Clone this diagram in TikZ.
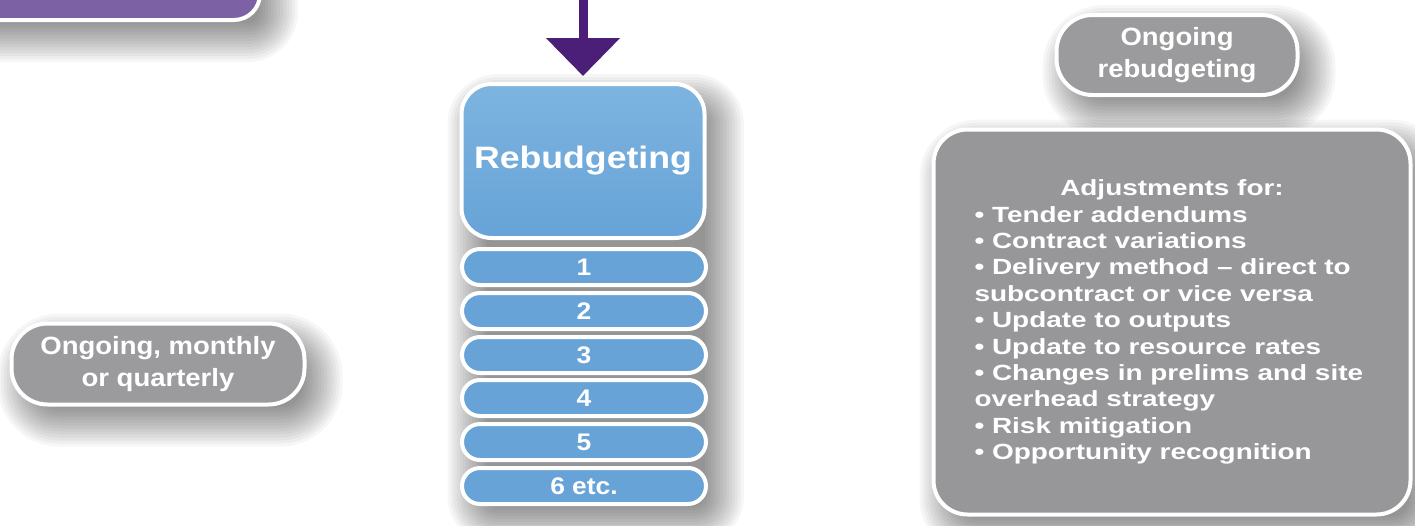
\documentclass[tikz,border=0pt]{standalone}
\usepackage{fontspec}
\setmainfont{Liberation Sans}
\newfontfamily\labelsans{Liberation Sans}[FakeStretch=1.1]
\newfontfamily\listsans{Liberation Sans}[FakeStretch=1.27]
\newfontfamily\titlesans{Liberation Sans}[FakeStretch=1.15]
\usetikzlibrary{arrows.meta,calc}

\definecolor{stagepurple}{HTML}{7C62A4}
\definecolor{arrowpurple}{HTML}{4B1E78}
\definecolor{stepblue}{HTML}{67A3D7}
\definecolor{stepbluelight}{HTML}{7DB4E0}
\definecolor{notegrey}{HTML}{9B9B9E}
\definecolor{listgrey}{HTML}{97979A}

\pgfdeclarelayer{paper}
\pgfdeclarelayer{shadow}
\pgfsetlayers{paper,shadow,main}

% soft drop shadow: stacked translucent rounded rectangles,
% #1 top-left anchor, #2 bottom-right anchor, #3 corner radius
\newcommand\castshadow[3]{%
  \foreach \r in {-15,-12,...,24}{%
    \pgfmathsetmacro\rc{max(#3+\r,1)}%
    \fill[black, opacity=0.035, rounded corners=\rc pt]
      ($(#1)+(12-\r,16-\r)$) rectangle ($(#2)+(12+\r,16+\r)$);
  }}

\tikzset{
  panel/.style={draw=white, line width=4pt, text=white, inner sep=0pt},
  stagebox/.style={panel, fill=stagepurple, rounded corners=26pt,
      minimum width=400pt, minimum height=150pt},
  titlebox/.style={panel, top color=stepbluelight, bottom color=stepblue,
      rounded corners=30pt, minimum width=243pt, minimum height=154pt,
      font=\titlesans\bfseries\fontsize{31}{36}\selectfont},
  steppill/.style={panel, fill=stepblue, rounded corners=18pt,
      minimum width=244pt, minimum height=36pt,
      font=\labelsans\bfseries\fontsize{24}{28}\selectfont},
  notepill/.style={panel, fill=notegrey, rounded corners=36pt, align=center,
      font=\labelsans\bfseries\fontsize{25}{32.5}\selectfont},
  listbox/.style={panel, fill=listgrey, rounded corners=34pt,
      minimum width=477pt, minimum height=385pt,
      font=\listsans\bfseries\fontsize{22}{26.4}\selectfont},
  flowarrow/.style={line width=9pt, draw=arrowpurple,
      -{Triangle[width=72pt,length=38pt]}, shorten >=6pt},
}

\begin{document}
\begin{tikzpicture}[x=1pt,y=-1pt]
  \begin{pgfonlayer}{paper}
    \fill[white] (0,0) rectangle (1415,525);
  \end{pgfonlayer}
  \useasboundingbox (0,0) rectangle (1415,525);

  % stage above, only its lower edge lies on the page
  \node[stagebox] (stage) at (60,-55) {};

  % rebudgeting stack
  \coordinate (feed) at (583,-10);
  \node[titlebox] (rebudget) at (583,161) {Rebudgeting};
  \node[steppill] (r1) at (584,267) {1};
  \node[steppill] (r2) at (584,311) {2};
  \node[steppill] (r3) at (584,355) {3};
  \node[steppill] (r4) at (584,398) {4};
  \node[steppill] (r5) at (584,442) {5};
  \node[steppill] (r6) at (584,486) {6 etc.};
  \draw[flowarrow] (feed) -- (rebudget.north);

  % notes
  \node[notepill, minimum width=293pt, minimum height=81pt] (cycle)
    at (158,364) {Ongoing, monthly\\or quarterly};
  \node[notepill, minimum width=241pt, minimum height=80pt] (ongoing)
    at (1177,55) {Ongoing\\rebudgeting};

  % adjustments list
  \node[listbox] (adjust) at (1172,322) {%
    \begin{minipage}{395pt}
      \centering Adjustments for:\par
      \raggedright
      • Tender addendums\\
      • Contract variations\\
      • Delivery method – direct to\\
      subcontract or vice versa\\
      • Update to outputs\\
      • Update to resource rates\\
      • Changes in prelims and site\\
      overhead strategy\\
      • Risk mitigation\\
      • Opportunity recognition
    \end{minipage}};

  % shadows behind the panels
  \begin{pgfonlayer}{shadow}
    \castshadow{stage.north west}{stage.south east}{26}
    \castshadow{rebudget.north west}{r6.south east}{26}
    \castshadow{cycle.north west}{cycle.south east}{38}
    \castshadow{ongoing.north west}{ongoing.south east}{38}
    \castshadow{adjust.north west}{adjust.south east}{34}
  \end{pgfonlayer}
\end{tikzpicture}
\end{document}
